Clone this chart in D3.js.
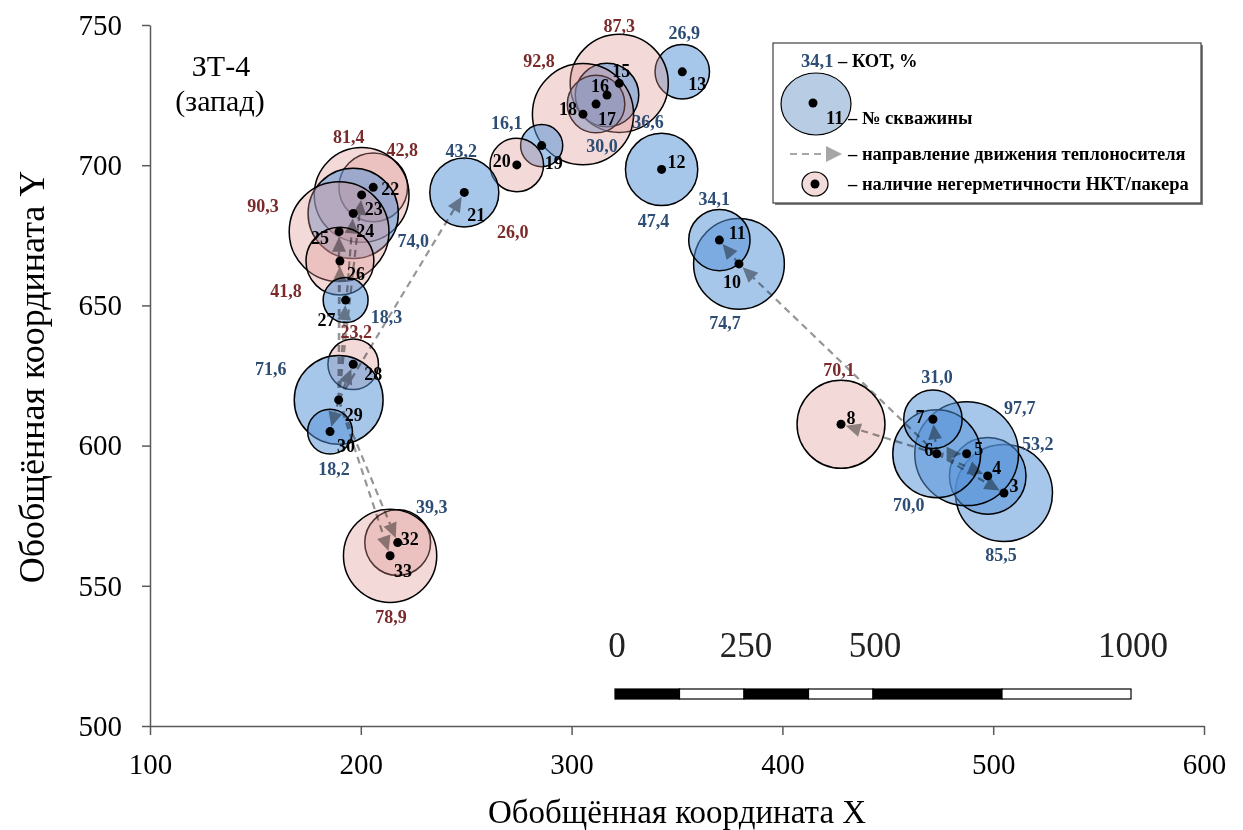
<!DOCTYPE html>
<html>
<head>
<meta charset="utf-8">
<script src="https://cdn.jsdelivr.net/npm/d3@7"></script>
<style>
  body { margin: 0; background: #fff; }
  svg text { font-family: "Liberation Serif", "Times New Roman", serif; }
</style>
</head>
<body>
<svg id="chart" width="1243" height="830"></svg>
<script>
// ---- data ----
const wells  = [3, 4, 5, 6, 7, 8, 10, 11, 12, 13, 15, 16, 17, 18, 19, 20, 21, 22, 23, 24, 25, 26, 27, 28, 29, 30, 32, 33];
const coordX = [505.1, 497.4, 487.4, 473.2, 471.4, 427.8, 379.4, 370.1, 342.7, 352.5, 322.6, 316.8, 311.6, 305.4, 285.8, 274.0, 249.1, 205.9, 200.4, 196.4, 189.7, 190.1, 192.8, 196.4, 189.5, 185.4, 217.5, 213.9];
const coordY = [583.1, 589.2, 597.1, 597.1, 609.4, 607.6, 664.8, 673.3, 698.5, 733.3, 729.2, 725.0, 721.8, 718.2, 707.0, 700.1, 690.3, 692.1, 689.4, 682.8, 676.3, 665.8, 651.9, 629.0, 616.3, 605.0, 565.4, 560.7];
const kot    = [85.5, 53.2, 97.7, 70.0, 31.0, 70.1, 74.7, 34.1, 47.4, 26.9, 87.3, 36.6, 30.0, 92.8, 16.1, 26.0, 43.2, 42.8, 81.4, 74.0, 90.3, 41.8, 18.3, 23.2, 71.6, 18.2, 39.3, 78.9];
// wells with tubing / packer leaks (pink bubbles)
const leakWells = [8, 15, 18, 20, 22, 23, 25, 26, 28, 32, 33];
// wells whose КОТ value is printed in dark red
const redLabelWells = [8, 15, 18, 20, 22, 23, 25, 26, 28, 33];
// coolant flow directions: [from, to]
const flows = [[6, 7], [6, 5], [6, 4], [6, 3], [6, 8], [6, 10], [10, 11],
               [29, 21], [29, 23], [29, 24], [29, 25], [29, 26], [29, 27], [29, 28], [29, 30], [29, 32], [29, 33]];
const xTicks = [100, 200, 300, 400, 500, 600];
const yTicks = [500, 550, 600, 650, 700, 750];
const scaleTicks = [0, 250, 500, 1000];
const scaleSegments = [0, 125, 250, 375, 500, 750, 1000];

// ---- label placement (pixel offsets from the well point) ----
const numberOffset = {
  3: [10, -7], 4: [9, -8], 5: [12, -5], 6: [-8, -4], 7: [-13, -3], 8: [10, -7],
  10: [-7, 18], 11: [18, -7], 12: [15, -8], 13: [15, 12], 15: [2, -13], 16: [-7, -9],
  17: [11, 15], 18: [-15, -5], 19: [12, 17], 20: [-15, -4], 21: [12, 22], 22: [17, 1],
  23: [12, 14], 24: [12, 17], 25: [-19, 6], 26: [16, 13], 27: [-19, 20], 28: [20, 9],
  29: [15, 15], 30: [16, 14], 32: [12, -4], 33: [13, 15]
};
const valueOffset = {
  3: [-3, 62], 4: [50, -32], 5: [53, -46], 6: [-28, 51], 7: [4, -43], 8: [-2, -55],
  10: [-14, 59], 11: [-5, -41], 12: [-8, 51], 13: [2, -39], 15: [0, -58], 16: [41, 27],
  17: [6, 42], 18: [-44, -53], 19: [-35, -23], 20: [-4, 67], 21: [-3, -42], 22: [29, -38],
  23: [-13, -58], 24: [60, 27], 25: [-76, -26], 26: [-54, 30], 27: [41, 17], 28: [3, -33],
  29: [-68, -31], 30: [4, 37], 32: [34, -36], 33: [1, 61]
};

// ---- setup ----
const svg = d3.select("#chart");
const x = d3.scaleLinear().domain([100, 600]).range([150, 1204]);
const y = d3.scaleLinear().domain([500, 750]).range([726, 25]);
const r = d3.scaleSqrt().domain([0, 100]).range([0, 52.5]);

const BLUE_FILL = "rgba(85,145,215,0.52)";
const PINK_FILL = "rgba(220,150,145,0.35)";
const BLUE_TEXT = "#2e4d75";
const RED_TEXT = "#7a2a2a";
const FONT = "'Liberation Serif','Times New Roman',serif";

const data = wells.map((w, i) => ({
  well: w, x: coordX[i], y: coordY[i], kot: kot[i],
  leak: leakWells.includes(w), red: redLabelWells.includes(w)
}));
const byWell = new Map(data.map(d => [d.well, d]));

// ---- axes ----
const gx = svg.append("g")
  .attr("transform", "translate(0,726)")
  .call(d3.axisBottom(x).tickValues(xTicks).tickFormat(d3.format("d"))
    .tickSize(9).tickSizeOuter(0).tickPadding(18));
const gy = svg.append("g")
  .attr("transform", "translate(150,0)")
  .call(d3.axisLeft(y).tickValues(yTicks).tickFormat(d3.format("d"))
    .tickSize(8).tickSizeOuter(0).tickPadding(20));
[gx, gy].forEach(g => {
  g.attr("font-family", FONT).attr("font-size", 29);
  g.select(".domain").attr("stroke", "#595959").attr("stroke-width", 1.5);
  g.selectAll(".tick line").attr("stroke", "#595959").attr("stroke-width", 1.5);
  g.selectAll(".tick text").attr("fill", "#000");
});

svg.append("text")
  .attr("x", 677).attr("y", 823)
  .attr("text-anchor", "middle").attr("font-size", 33)
  .text("Обобщённая координата X");
svg.append("text")
  .attr("transform", "translate(44,377) rotate(-90)")
  .attr("text-anchor", "middle").attr("font-size", 36)
  .text("Обобщённая координата Y");

// title
svg.append("text").attr("x", 221).attr("y", 76).attr("text-anchor", "middle")
  .attr("font-size", 30).text("ЗТ-4");
svg.append("text").attr("x", 220).attr("y", 111).attr("text-anchor", "middle")
  .attr("font-size", 30).text("(запад)");

// ---- bubbles ----
svg.append("g").selectAll("circle")
  .data(data)
  .join("circle")
  .attr("cx", d => x(d.x))
  .attr("cy", d => y(d.y))
  .attr("r", d => r(d.kot))
  .attr("fill", d => d.leak ? PINK_FILL : BLUE_FILL)
  .attr("stroke", "#000")
  .attr("stroke-width", 1.5);

// ---- flow arrows ----
const flowG = svg.append("g").style("mix-blend-mode", "multiply");
const TIP_GAP = 5, HEAD_LEN = 15, HEAD_HALF = 7;
flows.forEach(([a, b]) => {
  const s = byWell.get(a), t = byWell.get(b);
  const x0 = x(s.x), y0 = y(s.y), x1 = x(t.x), y1 = y(t.y);
  const len = Math.hypot(x1 - x0, y1 - y0);
  const ux = (x1 - x0) / len, uy = (y1 - y0) / len;
  const tipX = x1 - ux * TIP_GAP, tipY = y1 - uy * TIP_GAP;
  const bx = tipX - ux * HEAD_LEN, by = tipY - uy * HEAD_LEN;
  flowG.append("line")
    .attr("x1", x0).attr("y1", y0).attr("x2", bx).attr("y2", by)
    .attr("stroke", "#969696").attr("stroke-width", 2.2)
    .attr("stroke-dasharray", "7,5");
  flowG.append("path")
    .attr("d", `M${tipX},${tipY}L${bx - uy * HEAD_HALF},${by + ux * HEAD_HALF}L${bx + uy * HEAD_HALF},${by - ux * HEAD_HALF}Z`)
    .attr("fill", "#969696");
});

// ---- well points ----
svg.append("g").selectAll("circle")
  .data(data)
  .join("circle")
  .attr("cx", d => x(d.x))
  .attr("cy", d => y(d.y))
  .attr("r", 4.5)
  .attr("fill", "#000");

// ---- well numbers ----
svg.append("g").selectAll("text")
  .data(data)
  .join("text")
  .attr("x", d => x(d.x) + numberOffset[d.well][0])
  .attr("y", d => y(d.y) + numberOffset[d.well][1])
  .attr("dy", "0.35em")
  .attr("text-anchor", "middle")
  .attr("font-size", 18).attr("font-weight", "bold")
  .text(d => d.well);

// ---- КОТ values ----
const fmt = v => d3.format(".1f")(v).replace(".", ",");
svg.append("g").selectAll("text")
  .data(data)
  .join("text")
  .attr("x", d => x(d.x) + valueOffset[d.well][0])
  .attr("y", d => y(d.y) + valueOffset[d.well][1])
  .attr("dy", "0.35em")
  .attr("text-anchor", "middle")
  .attr("font-size", 18).attr("font-weight", "bold")
  .attr("fill", d => d.red ? RED_TEXT : BLUE_TEXT)
  .text(d => fmt(d.kot));

// ---- legend ----
const LG_FS = 18.5;
const lg = svg.append("g");
lg.append("rect").attr("x", 775).attr("y", 45).attr("width", 428).attr("height", 160).attr("fill", "#808080");
lg.append("rect").attr("x", 773).attr("y", 43).attr("width", 428).attr("height", 160)
  .attr("fill", "#fff").attr("stroke", "#404040").attr("stroke-width", 1.2);
const t1 = lg.append("text").attr("x", 801).attr("y", 67).attr("font-size", LG_FS).attr("font-weight", "bold");
t1.append("tspan").attr("fill", BLUE_TEXT).text("34,1");
t1.append("tspan").text(" – КОТ, %");
lg.append("ellipse").attr("cx", 816).attr("cy", 104).attr("rx", 35).attr("ry", 31)
  .attr("fill", "#b8cce4").attr("stroke", "#000").attr("stroke-width", 1.2);
lg.append("circle").attr("cx", 813).attr("cy", 103).attr("r", 4.5).attr("fill", "#000");
lg.append("text").attr("x", 826).attr("y", 124).attr("font-size", LG_FS).attr("font-weight", "bold").text("11");
lg.append("text").attr("x", 848).attr("y", 124).attr("font-size", LG_FS).attr("font-weight", "bold").text("– № скважины");
lg.append("line").attr("x1", 790).attr("y1", 154).attr("x2", 826).attr("y2", 154)
  .attr("stroke", "#a6a6a6").attr("stroke-width", 2.2).attr("stroke-dasharray", "7,5");
lg.append("path").attr("d", "M842,154L826,146L826,162Z").attr("fill", "#a6a6a6");
lg.append("text").attr("x", 848).attr("y", 160).attr("font-size", LG_FS).attr("font-weight", "bold")
  .text("– направление движения теплоносителя");
lg.append("ellipse").attr("cx", 815).attr("cy", 184).attr("rx", 13).attr("ry", 12)
  .attr("fill", "#f2dcdb").attr("stroke", "#000").attr("stroke-width", 1.2);
lg.append("circle").attr("cx", 815).attr("cy", 184).attr("r", 4.5).attr("fill", "#000");
lg.append("text").attr("x", 848).attr("y", 190).attr("font-size", LG_FS).attr("font-weight", "bold")
  .text("– наличие негерметичности НКТ/пакера");

// ---- scale bar ----
const sb = d3.scaleLinear().domain([0, 1000]).range([615, 1131]);
const sbG = svg.append("g");
d3.pairs(scaleSegments).forEach(([a, b], i) => {
  sbG.append("rect")
    .attr("x", sb(a)).attr("y", 689).attr("width", sb(b) - sb(a)).attr("height", 10)
    .attr("fill", i % 2 === 0 ? "#000" : "#fff")
    .attr("stroke", "#000").attr("stroke-width", 1.2);
});
sbG.selectAll("text.sbt")
  .data(scaleTicks)
  .join("text")
  .attr("class", "sbt")
  .attr("x", d => sb(d) + 2).attr("y", 657)
  .attr("text-anchor", "middle")
  .attr("font-size", 35).attr("fill", "#222")
  .text(d => d);
</script>
</body>
</html>
